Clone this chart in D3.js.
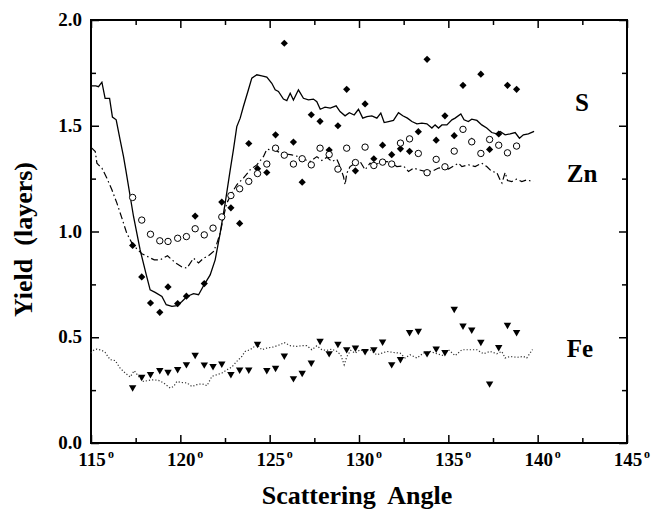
<!DOCTYPE html>
<html>
<head>
<meta charset="utf-8">
<script src="https://cdn.jsdelivr.net/npm/d3@7"></script>
<style>
  body { margin: 0; background: #fff; }
  svg text { font-family: "Liberation Serif", "Times New Roman", serif; font-weight: bold; fill: #000; }
</style>
</head>
<body>
<div id="plot"></div>
<script>
const w = 653;
const h = 512;

// tick values
const xTicks = [115, 120, 125, 130, 135, 140, 145];
const xMinor = [117.5, 122.5, 127.5, 132.5, 137.5, 142.5];
const yTicks = [0, 0.5, 1.0, 1.5, 2.0];
const yMinor = [0.25, 0.75, 1.25, 1.75];

// angles of the measured points (shared by the three marker series)
const markAngle = [117.33, 117.84, 118.33, 118.85, 119.31, 119.85, 120.34, 120.83, 121.34, 121.83,
  122.32, 122.83, 123.32, 123.83, 124.32, 124.84, 125.33, 125.82, 126.33, 126.82,
  127.33, 127.82, 128.33, 128.82, 129.31, 129.80, 130.34, 130.83, 131.32, 131.83,
  132.32, 132.83, 133.32, 133.81, 134.32, 134.81, 135.33, 135.82, 136.31, 136.82,
  137.31, 137.82, 138.31, 138.82];

// S - filled diamonds
const sPoints = [0.934, 0.785, 0.662, 0.618, 0.738, 0.659, 0.694, 1.073, 0.754, null,
  1.139, 1.112, 1.038, 1.416, 1.297, 1.279, 1.457, 1.890, 1.423, 1.233,
  1.552, 1.521, 1.385, 1.500, 1.672, 1.287, 1.603, 1.344, 1.408, 1.363,
  1.391, 1.379, 1.472, 1.814, 1.432, 1.547, 1.453, 1.691, 1.427, 1.744,
  1.388, 1.461, 1.691, 1.672];

// Zn - open circles
const znPoints = [1.161, 1.054, 0.987, 0.956, 0.953, 0.968, 0.976, 1.013, 0.984, 1.016,
  1.069, 1.170, 1.202, 1.237, 1.274, 1.319, 1.394, 1.361, 1.319, 1.344,
  1.315, 1.394, 1.364, 1.295, 1.394, 1.326, 1.399, 1.312, 1.328, 1.319,
  1.418, 1.438, 1.369, 1.278, 1.341, 1.306, 1.380, 1.483, 1.424, 1.369,
  1.435, 1.408, 1.372, 1.404];

// Fe - filled down triangles
const fePoints = [0.263, 0.312, 0.325, 0.344, 0.336, 0.349, 0.372, 0.416, 0.371, 0.363,
  0.375, 0.325, 0.347, 0.347, 0.468, 0.344, 0.355, 0.413, 0.306, 0.331,
  0.380, 0.483, 0.424, 0.468, 0.443, 0.451, 0.434, 0.443, 0.479, 0.372,
  0.396, 0.524, 0.530, 0.424, 0.446, 0.429, 0.634, 0.555, 0.536, 0.478,
  0.281, 0.453, 0.558, 0.524];

// S - solid line [angle, yield]
const sLine = [[115.0,1.689],[115.27,1.689],[115.42,1.685],[115.61,1.706],[115.79,1.63],[116.04,1.629],
  [116.2,1.541],[116.41,1.528],[116.63,1.433],[116.82,1.354],[116.95,1.29],[117.38,1.071],[117.75,0.913],
  [118.07,0.803],[118.31,0.724],[118.59,0.712],[118.97,0.693],[119.21,0.654],[119.53,0.646],[119.81,0.649],
  [120.09,0.669],[120.37,0.693],[120.74,0.706],[121.02,0.701],[121.33,0.748],[121.67,0.795],[121.95,0.866],
  [122.23,0.992],[122.51,1.134],[122.79,1.29],[122.97,1.386],[123.16,1.496],[123.35,1.536],[123.53,1.591],
  [123.81,1.67],[124.0,1.725],[124.28,1.741],[124.56,1.736],[124.84,1.73],[125.12,1.701],[125.31,1.67],
  [125.49,1.662],[125.77,1.626],[125.96,1.619],[126.15,1.654],[126.33,1.622],[126.61,1.67],[126.89,1.63],
  [127.17,1.622],[127.45,1.626],[127.64,1.614],[127.83,1.578],[128.1,1.588],[128.39,1.583],[128.72,1.594],
  [128.94,1.567],[129.22,1.547],[129.46,1.562],[129.73,1.551],[129.97,1.578],[130.21,1.536],[130.44,1.543],
  [130.72,1.547],[131.0,1.536],[131.22,1.56],[131.41,1.515],[131.65,1.52],[131.93,1.525],[132.21,1.562],
  [132.45,1.547],[132.71,1.536],[132.96,1.52],[133.24,1.509],[133.52,1.512],[133.8,1.509],[134.08,1.489],
  [134.26,1.504],[134.45,1.489],[134.64,1.504],[134.92,1.504],[135.2,1.528],[135.38,1.536],[135.7,1.556],
  [135.88,1.528],[136.12,1.52],[136.31,1.531],[136.6,1.525],[136.87,1.504],[137.15,1.489],[137.43,1.468],
  [137.71,1.462],[137.9,1.473],[138.18,1.457],[138.46,1.462],[138.74,1.468],[138.98,1.441],[139.2,1.457],
  [139.48,1.462],[139.8,1.473]];

// Zn - dash-dot line
const znLine = [[115.0,1.396],[115.05,1.394],[115.24,1.378],[115.33,1.323],[115.42,1.315],[115.61,1.3],
  [115.89,1.252],[116.17,1.197],[116.45,1.134],[116.73,1.063],[117.0,0.992],[117.29,0.945],[117.57,0.917],
  [117.85,0.895],[118.22,0.879],[118.54,0.866],[118.87,0.866],[119.28,0.885],[119.53,0.866],[119.81,0.847],
  [120.09,0.832],[120.37,0.827],[120.74,0.874],[121.02,0.851],[121.3,0.874],[121.58,0.885],[121.86,0.906],
  [122.05,0.945],[122.23,0.992],[122.42,1.071],[122.6,1.134],[122.88,1.181],[123.16,1.221],[123.53,1.252],
  [123.91,1.292],[124.28,1.315],[124.65,1.354],[124.84,1.389],[125.12,1.386],[125.4,1.38],[125.68,1.37],
  [126.24,1.362],[126.61,1.354],[126.99,1.339],[127.27,1.331],[127.64,1.354],[127.92,1.336],[128.2,1.351],
  [128.48,1.331],[128.76,1.342],[128.94,1.307],[129.13,1.26],[129.22,1.221],[129.32,1.276],[129.5,1.307],
  [129.78,1.323],[130.06,1.331],[130.34,1.292],[130.62,1.323],[130.9,1.315],[131.18,1.326],[131.56,1.331],
  [131.84,1.323],[132.12,1.307],[132.49,1.31],[132.77,1.284],[133.05,1.3],[133.33,1.292],[133.7,1.284],
  [134.08,1.284],[134.45,1.3],[134.82,1.304],[135.01,1.295],[135.29,1.31],[135.57,1.323],[135.76,1.307],
  [136.13,1.315],[136.5,1.307],[136.87,1.323],[137.15,1.307],[137.43,1.284],[137.71,1.279],[137.9,1.244],
  [138.0,1.229],[138.18,1.279],[138.31,1.241],[138.55,1.236],[138.83,1.248],[139.11,1.236],[139.39,1.244],
  [139.76,1.236]];

// Fe - dotted line
const feLine = [[115.0,0.425],[115.14,0.438],[115.33,0.444],[115.61,0.438],[115.79,0.428],[116.07,0.394],
  [116.35,0.39],[116.63,0.354],[116.91,0.331],[117.19,0.312],[117.42,0.342],[117.66,0.315],[117.94,0.291],
  [118.22,0.296],[118.5,0.299],[118.78,0.296],[119.06,0.284],[119.43,0.26],[119.62,0.267],[119.81,0.291],
  [120.09,0.286],[120.37,0.284],[120.65,0.267],[120.93,0.276],[121.21,0.28],[121.49,0.271],[121.77,0.315],
  [122.05,0.323],[122.33,0.331],[122.6,0.346],[122.88,0.359],[123.16,0.386],[123.44,0.409],[123.63,0.433],
  [123.91,0.441],[124.28,0.465],[124.56,0.441],[124.84,0.449],[125.21,0.454],[125.59,0.465],[125.81,0.475],
  [126.15,0.46],[126.52,0.457],[126.8,0.46],[127.08,0.46],[127.36,0.441],[127.64,0.46],[127.92,0.441],
  [128.2,0.438],[128.48,0.444],[128.76,0.433],[128.98,0.417],[129.17,0.37],[129.32,0.409],[129.54,0.438],
  [129.78,0.425],[130.06,0.441],[130.34,0.433],[130.62,0.441],[131.0,0.417],[131.28,0.425],[131.56,0.433],
  [131.93,0.428],[132.3,0.425],[132.58,0.402],[132.86,0.417],[133.24,0.402],[133.61,0.425],[133.98,0.433],
  [134.36,0.422],[134.73,0.413],[135.01,0.441],[135.38,0.413],[135.76,0.441],[136.13,0.441],[136.6,0.441],
  [136.96,0.422],[137.34,0.433],[137.71,0.422],[137.99,0.433],[138.18,0.402],[138.46,0.409],[138.83,0.405],
  [139.2,0.409],[139.39,0.402],[139.71,0.442]];

const elements = ["S", "Zn", "Fe"];
const labelYield = [1.61, 1.277, 0.45];

const padL = 91, padR = 627, padT = 20, padB = 443;

const xScale = d3.scaleLinear().domain([115, 145]).range([padL, padR]);
const yScale = d3.scaleLinear().domain([0, 2]).range([padB, padT]);

const svg = d3.select("#plot").
  append("svg").
  attr("width", w).
  attr("height", h);

// ticks on all four sides, pointing inwards
function ticks(axis, vals, size, tr) {
  const g = svg.append("g").attr("transform", tr).
    call(axis.tickValues(vals).tickSize(size).tickFormat(""));
  g.select(".domain").remove();
  g.selectAll("line").attr("stroke", "#000").attr("stroke-width", 1.5);
  return g;
}
ticks(d3.axisBottom(xScale), xTicks, -8, "translate(0," + padB + ")");
ticks(d3.axisBottom(xScale), xMinor, -5, "translate(0," + padB + ")");
ticks(d3.axisTop(xScale), xTicks, -8, "translate(0," + padT + ")");
ticks(d3.axisTop(xScale), xMinor, -5, "translate(0," + padT + ")");
ticks(d3.axisLeft(yScale), yTicks, -8, "translate(" + padL + ",0)");
ticks(d3.axisLeft(yScale), yMinor, -5, "translate(" + padL + ",0)");
ticks(d3.axisRight(yScale), yTicks, -8, "translate(" + padR + ",0)");
ticks(d3.axisRight(yScale), yMinor, -5, "translate(" + padR + ",0)");

svg.append("rect").
  attr("x", padL).attr("y", padT).
  attr("width", padR - padL).attr("height", padB - padT).
  attr("fill", "none").attr("stroke", "#000").attr("stroke-width", 2);

// x tick labels with degree-like superscript "o"
const xl = svg.append("g").selectAll("g").data(xTicks).enter().append("g").
  attr("transform", d => "translate(" + xScale(d) + "," + 466 + ")");
xl.append("text").attr("text-anchor", "middle").attr("x", 1).
  style("font-size", "19px").text(d => d);
xl.append("text").attr("x", 17).attr("y", -8).
  style("font-size", "12px").text("o");

// y tick labels
svg.append("g").selectAll("text").data(yTicks).enter().append("text").
  attr("x", padL - 9).
  attr("y", d => yScale(d) + 6).
  attr("text-anchor", "end").
  style("font-size", "19px").
  text(d => d.toFixed(1));

// axis titles
svg.append("text").
  attr("x", (padL + padR) / 2 - 2).
  attr("y", 504).
  attr("text-anchor", "middle").
  style("font-size", "26px").
  text("Scattering\u00a0 Angle");

svg.append("text").
  attr("transform", "translate(32," + ((padT + padB) / 2 + 8) + ") rotate(-90)").
  attr("text-anchor", "middle").
  style("font-size", "26px").
  text("Yield\u00a0 (layers)");

// lines
const line = d3.line().x(d => xScale(d[0])).y(d => yScale(d[1]));

svg.append("path").datum(sLine).
  attr("d", line).attr("fill", "none").
  attr("stroke", "#000").attr("stroke-width", 1.3);

svg.append("path").datum(znLine).
  attr("d", line).attr("fill", "none").
  attr("stroke", "#000").attr("stroke-width", 1.2).
  attr("stroke-dasharray", "7,3,1.5,3");

svg.append("path").datum(feLine).
  attr("d", line).attr("fill", "none").
  attr("stroke", "#333").attr("stroke-width", 1.2).
  attr("stroke-dasharray", "1.2,2");

// markers
const diamond = d3.symbol().type(d3.symbolSquare).size(26);
svg.append("g").selectAll("path").
  data(markAngle.map((a, i) => [a, sPoints[i]]).filter(d => d[1] != null)).
  enter().append("path").
  attr("d", diamond).
  attr("transform", d => "translate(" + xScale(d[0]) + "," + yScale(d[1]) + ") rotate(45)").
  attr("fill", "#000");

svg.append("g").selectAll("circle").
  data(markAngle.map((a, i) => [a, znPoints[i]])).
  enter().append("circle").
  attr("cx", d => xScale(d[0])).
  attr("cy", d => yScale(d[1])).
  attr("r", 3.2).
  attr("fill", "#fff").
  attr("stroke", "#000").
  attr("stroke-width", 1);

const tri = d3.symbol().type(d3.symbolTriangle).size(24);
svg.append("g").selectAll("path").
  data(markAngle.map((a, i) => [a, fePoints[i]])).
  enter().append("path").
  attr("d", tri).
  attr("transform", d => "translate(" + xScale(d[0]) + "," + yScale(d[1]) + ") rotate(180)").
  attr("fill", "#000");

// element labels
svg.append("g").selectAll("text").data(elements).enter().append("text").
  attr("x", (d, i) => i === 2 ? 580 : 582).
  attr("y", (d, i) => yScale(labelYield[i]) + 9).
  attr("text-anchor", "middle").
  style("font-size", "25px").
  text(d => d);
</script>
</body>
</html>
